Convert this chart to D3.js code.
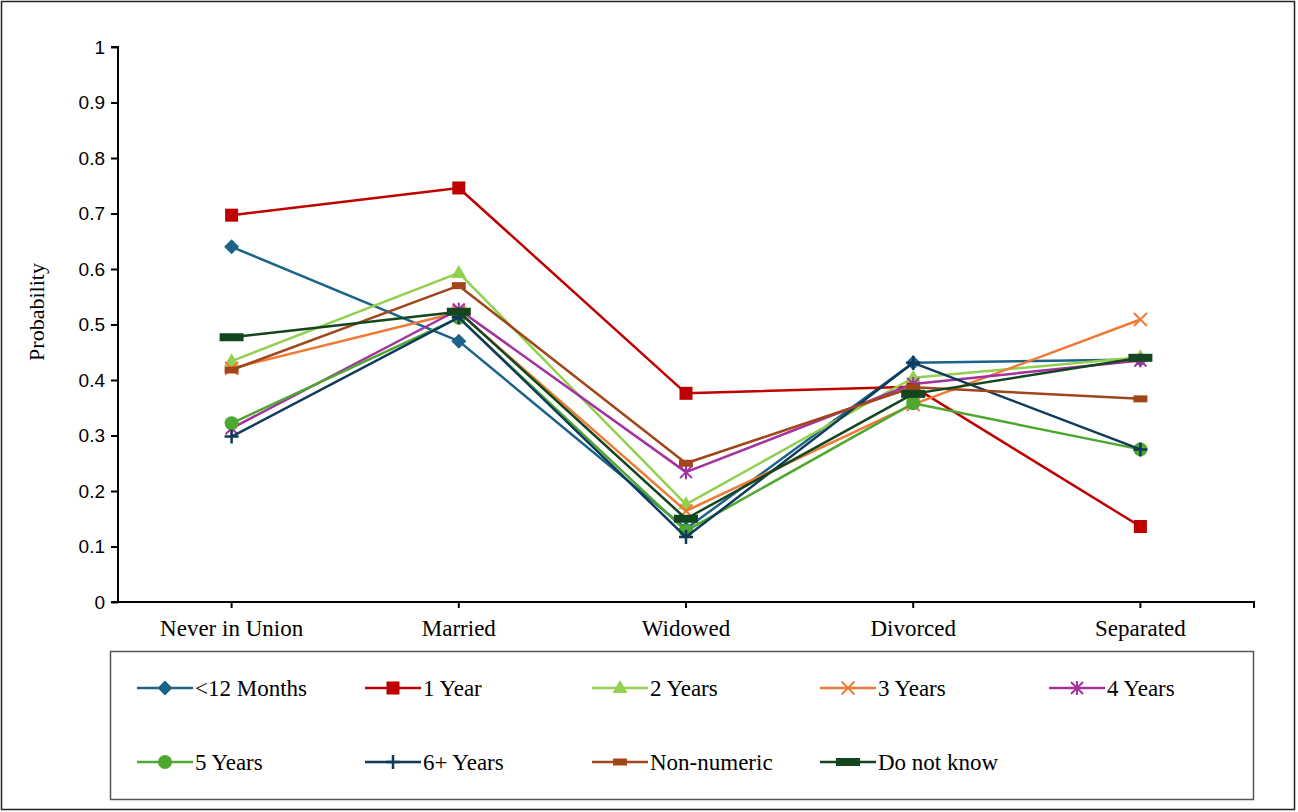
<!DOCTYPE html>
<html>
<head>
<meta charset="utf-8">
<script src="https://cdn.jsdelivr.net/npm/d3@7"></script>
<style>
  html, body { margin: 0; padding: 0; background: #fff; }
  svg { display: block; }
</style>
</head>
<body>
<svg id="chart" width="1298" height="812"></svg>
<script>
// Marital status categories on the x axis
const categories = ["Never in Union", "Married", "Widowed", "Divorced", "Separated"];

// Probability per series, one value per category
const months12   = [0.640, 0.470, 0.132, 0.431, 0.437];
const year1      = [0.697, 0.746, 0.376, 0.388, 0.136];
const years2     = [0.434, 0.593, 0.176, 0.404, 0.441];
const years3     = [0.421, 0.522, 0.164, 0.356, 0.509];
const years4     = [0.313, 0.527, 0.234, 0.393, 0.435];
const years5     = [0.322, 0.512, 0.128, 0.358, 0.275];
const years6plus = [0.298, 0.513, 0.117, 0.431, 0.275];
const nonNumeric = [0.418, 0.570, 0.250, 0.387, 0.366];
const doNotKnow  = [0.477, 0.523, 0.150, 0.375, 0.440];

const seriesNames = ["<12 Months", "1 Year", "2 Years", "3 Years", "4 Years",
                     "5 Years", "6+ Years", "Non-numeric", "Do not know"];
const yTicks = [0, 0.1, 0.2, 0.3, 0.4, 0.5, 0.6, 0.7, 0.8, 0.9, 1];

const seriesValues = [months12, year1, years2, years3, years4, years5, years6plus, nonNumeric, doNotKnow];
const colors = ["#1b6389", "#c00000", "#92d050", "#f07a35", "#a3319f",
                "#4ea72e", "#0f3a5c", "#a0461a", "#13461f"];
const shapes = ["diamond", "square", "triangle", "x", "star", "circle", "plus", "dash", "bar"];

const serif = "'Liberation Serif', 'Times New Roman', serif";
const sans = "'Liberation Sans', Arial, sans-serif";

const svg = d3.select("#chart");

// Outer frame
svg.append("rect").attr("x", 1.5).attr("y", 1.5).attr("width", 1293).attr("height", 808)
  .attr("fill", "none").attr("stroke", "#222").attr("stroke-width", 1.5);

const plot = { left: 118, right: 1254, top: 47, bottom: 602 };

const x = d3.scaleBand().domain(categories).range([plot.left, plot.right]);
const xc = c => x(c) + x.bandwidth() / 2;
const y = d3.scaleLinear().domain([0, 1]).range([plot.bottom, plot.top]);

// Y axis
const yAxis = svg.append("g").attr("transform", `translate(${plot.left},0)`)
  .call(d3.axisLeft(y).tickValues(yTicks).tickFormat(d => String(+d.toFixed(1))).tickSize(7).tickPadding(6));
yAxis.select(".domain").attr("stroke", "#000").attr("stroke-width", 2).attr("d", `M-7,${plot.top}H0V${plot.bottom}H-7`);
yAxis.selectAll(".tick line").attr("stroke", "#000").attr("stroke-width", 2);
yAxis.selectAll(".tick text").style("font-family", sans)
  .attr("font-size", 19).attr("fill", "#000");

// X axis
const xAxis = svg.append("g").attr("transform", `translate(0,${plot.bottom})`)
  .call(d3.axisBottom(x).tickSize(6).tickPadding(12));
xAxis.select(".domain").attr("stroke", "#000").attr("stroke-width", 2)
  .attr("d", `M${plot.left},0H${plot.right}V6`);
xAxis.selectAll(".tick line").attr("stroke", "#000").attr("stroke-width", 2);
xAxis.selectAll(".tick text").style("font-family", serif)
  .attr("font-size", 23).attr("fill", "#000");

// Y axis title
svg.append("text").attr("transform", "translate(44,312) rotate(-90)")
  .attr("text-anchor", "middle").style("font-family", serif)
  .attr("font-size", 22).attr("fill", "#000").text("Probability");

// Marker drawing
function drawMarker(g, shape, color, cx, cy) {
  switch (shape) {
    case "diamond":
      g.append("path").attr("d", `M${cx},${cy - 7.5}L${cx + 7.5},${cy}L${cx},${cy + 7.5}L${cx - 7.5},${cy}Z`)
        .attr("fill", color);
      break;
    case "square":
      g.append("rect").attr("x", cx - 6.5).attr("y", cy - 6.5).attr("width", 13).attr("height", 13).attr("fill", color);
      break;
    case "triangle":
      g.append("path").attr("d", `M${cx},${cy - 8}L${cx + 7.5},${cy + 5}L${cx - 7.5},${cy + 5}Z`).attr("fill", color);
      break;
    case "x":
      g.append("path").attr("d", `M${cx - 6.5},${cy - 6.5}L${cx + 6.5},${cy + 6.5}M${cx - 6.5},${cy + 6.5}L${cx + 6.5},${cy - 6.5}`)
        .attr("stroke", color).attr("stroke-width", 2).attr("fill", "none");
      break;
    case "star":
      g.append("path").attr("d", `M${cx - 6},${cy - 6}L${cx + 6},${cy + 6}M${cx - 6},${cy + 6}L${cx + 6},${cy - 6}M${cx},${cy - 7}V${cy + 7}`)
        .attr("stroke", color).attr("stroke-width", 2).attr("fill", "none");
      break;
    case "circle":
      g.append("circle").attr("cx", cx).attr("cy", cy).attr("r", 7).attr("fill", color);
      break;
    case "plus":
      g.append("path").attr("d", `M${cx - 7},${cy}H${cx + 7}M${cx},${cy - 7}V${cy + 7}`)
        .attr("stroke", color).attr("stroke-width", 2.5).attr("fill", "none");
      break;
    case "dash":
      g.append("rect").attr("x", cx - 7).attr("y", cy - 3.5).attr("width", 14).attr("height", 7).attr("fill", color);
      break;
    case "bar":
      g.append("rect").attr("x", cx - 12).attr("y", cy - 4).attr("width", 24).attr("height", 8).attr("fill", color);
      break;
  }
}

const line = d3.line().x((d, i) => xc(categories[i])).y(d => y(d));

// Series lines and markers
seriesValues.forEach((vals, s) => {
  const g = svg.append("g");
  g.append("path").datum(vals).attr("d", line).attr("fill", "none")
    .attr("stroke", colors[s]).attr("stroke-width", 2.5).attr("stroke-linejoin", "round");
  vals.forEach((v, i) => drawMarker(g, shapes[s], colors[s], xc(categories[i]), y(v)));
});

// Legend
svg.append("rect").attr("x", 110.5).attr("y", 651.5).attr("width", 1143).attr("height", 148)
  .attr("fill", "none").attr("stroke", "#555").attr("stroke-width", 1.5);

const legendCols = [165, 393, 620, 848, 1077];
const legendRows = [688, 762];
seriesNames.forEach((name, s) => {
  const cx = legendCols[s % 5], cy = legendRows[Math.floor(s / 5)];
  const g = svg.append("g");
  g.append("line").attr("x1", cx - 28).attr("x2", cx + 28).attr("y1", cy).attr("y2", cy)
    .attr("stroke", colors[s]).attr("stroke-width", 2.5);
  drawMarker(g, shapes[s], colors[s], cx, cy);
  g.append("text").attr("x", cx + 30).attr("y", cy).attr("dy", "0.35em")
    .style("font-family", serif).attr("font-size", 23)
    .attr("fill", "#000").text(name);
});
</script>
</body>
</html>
